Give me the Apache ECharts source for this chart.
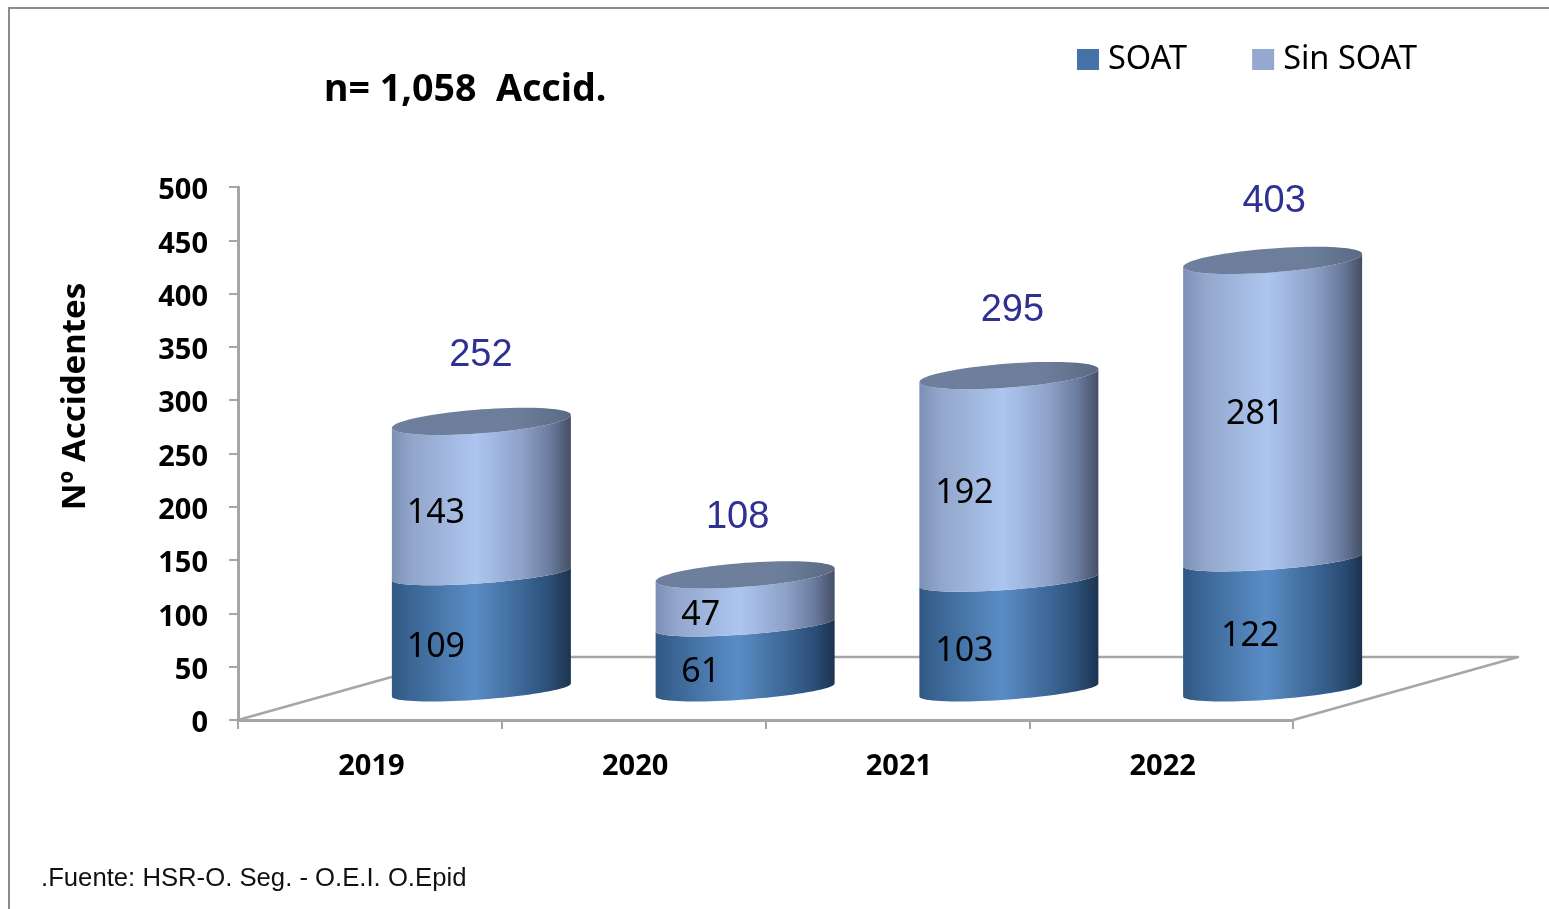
<!DOCTYPE html>
<html><head><meta charset="utf-8">
<style>html,body{margin:0;padding:0;background:#fff}#c{width:1549px;height:909px}</style>
<script src="https://cdn.jsdelivr.net/npm/echarts@6/dist/echarts.min.js"></script>
</head><body><div id="c"></div>
<script>
const categories = ['2019', '2020', '2021', '2022'];
const soat = [109, 61, 103, 122];
const sinSoat = [143, 47, 192, 281];
const totals = [252, 108, 295, 403];

// Hand placed label nudges of the original, in pixels [dx, dy]
const soatNudge = [[66, -15], [67, -15], [67, -14], [89, -19]];
const sinNudge = [[66, -14], [67, -15], [67, -15], [94, -26]];
const totalNudge = [[111, -96], [104, -87], [115, -95], [113, -89]];

const DEPTH_X = 111.5, DEPTH_Y = 30, FLOOR_X = 225, FLOOR_Y = 63;
const A = 89.5, TILT = 6.5, B = 9.5, CAP_B = 12;
const grey = '#a6a6a6';
const sansB = '"Noto Sans", sans-serif';

function arc(cx, cy, b, reverse) {
  const pts = [];
  for (let i = 0; i <= 40; i++) {
    const t = Math.PI * (1 - i / 40);
    pts.push([cx + A * Math.cos(t), cy - TILT * Math.cos(t) + b * Math.sin(t)]);
  }
  return reverse ? pts.reverse() : pts;
}
function ellipse(cx, cy, b) {
  const pts = [];
  for (let i = 0; i < 80; i++) {
    const t = Math.PI * 2 * i / 80;
    pts.push([cx + A * Math.cos(t), cy - TILT * Math.cos(t) + b * Math.sin(t)]);
  }
  return pts;
}
const grad = s => new echarts.graphic.LinearGradient(0, 0, 1, 0, s.map(p => ({offset: p[0], color: p[1]})));
const darkStops = [[0, '#305883'], [0.1, '#3a6594'], [0.46, '#5a8dc6'], [0.72, '#3d6897'], [0.88, '#2c4f78'], [1, '#1c3350']];
const lightStops = [[0, '#7c90b6'], [0.12, '#93a6cb'], [0.47, '#adc6ef'], [0.72, '#8fa2c9'], [0.88, '#6b7d9f'], [1, '#454f66']];
const capStops = [[0, '#6d7f9c'], [0.7, '#6c7e9a'], [1, '#5a6a84']];

function cylinderPart(stops, withCap, labelNudge) {
  return function (params, api) {
    const i = api.value(0);
    const lo = api.coord([i, api.value(1)]);
    const hi = api.coord([i, api.value(2)]);
    const cx = lo[0] + DEPTH_X;
    const yLo = lo[1] - DEPTH_Y, yHi = hi[1] - DEPTH_Y;
    const children = [{
      type: 'polygon',
      shape: {points: arc(cx, yLo, B, false).concat(arc(cx, yHi, withCap ? CAP_B : B, true))},
      style: {fill: grad(stops)}
    }];
    if (withCap) {
      children.push({
        type: 'polygon',
        shape: {points: ellipse(cx, yHi, CAP_B)},
        style: {fill: grad(capStops)}
      });
    }
    const val = api.value(2) - api.value(1);
    const mid = api.coord([i, (api.value(1) + api.value(2)) / 2]);
    children.push({
      type: 'text', z2: 20,
      style: {
        text: String(val),
        x: lo[0] + labelNudge[i][0], y: mid[1] + labelNudge[i][1],
        align: 'center', verticalAlign: 'middle', textAlign: 'center', textVerticalAlign: 'middle',
        fill: '#000', font: '34px "Noto Sans", sans-serif'
      }
    });
    return {type: 'group', children};
  };
}

const option = {
  animation: false,
  backgroundColor: '#fff',
  title: {
    text: 'n= 1,058  Accid.', left: 319, top: 66,
    textStyle: {fontFamily: sansB, fontWeight: 'bold', fontSize: 37.6, color: '#000'}
  },
  legend: {
    left: 1072, top: 38, itemWidth: 22, itemHeight: 21, itemGap: 65,
    data: ['SOAT', 'Sin SOAT'], icon: 'rect',
    textStyle: {fontFamily: sansB, fontSize: 32.5, color: '#000', padding: [0, 0, 0, 4]},
    selectedMode: false
  },
  grid: {left: 238, right: 256, top: 187, bottom: 189},
  xAxis: {
    type: 'category', data: categories, boundaryGap: true,
    axisLine: {lineStyle: {color: grey, width: 3}},
    axisTick: {show: true, length: 9, alignWithLabel: false, lineStyle: {color: grey, width: 2}},
    axisLabel: {margin: 32, color: '#000', fontFamily: sansB, fontWeight: 'bold', fontSize: 29, padding: [0, 0, 0, 3]}
  },
  yAxis: {
    type: 'value', min: 0, max: 500, interval: 50,
    name: 'Nº Accidentes', nameLocation: 'middle', nameGap: 146, nameRotate: 90,
    nameTextStyle: {color: '#000', fontFamily: sansB, fontWeight: 'bold', fontSize: 33, padding: [0, 0, 0, 114]},
    axisLine: {show: true, lineStyle: {color: grey, width: 3}},
    axisTick: {show: true, length: 9, lineStyle: {color: grey, width: 2}},
    axisLabel: {margin: 30, color: '#000', fontFamily: sansB, fontWeight: 'bold', fontSize: 29, verticalAlign: 'top', lineHeight: 8},
    splitLine: {show: false}
  },
  graphic: [
    {type: 'polyline', shape: {points: [[9, 909], [9, 8], [1549, 8]]}, style: {stroke: '#8c8c8c', lineWidth: 2, fill: 'none'}, silent: true},
    {type: 'text', left: 41, top: 866, style: {text: '.Fuente: HSR-O. Seg. - O.E.I. O.Epid', fill: '#111', font: '25.7px "Liberation Sans", Arial, sans-serif'}}
  ],
  series: [
    {
      name: 'floor', type: 'custom', z: 1, silent: true, clip: false, data: [[0]],
      renderItem: function (params) {
        const g = params.coordSys;
        const x0 = g.x, x1 = g.x + g.width, y0 = g.y + g.height;
        const line = pts => ({type: 'polyline', shape: {points: pts}, style: {stroke: grey, lineWidth: 2.5, fill: 'none', lineJoin: 'round'}});
        return {type: 'group', children: [
          line([[x0, y0], [x0 + FLOOR_X, y0 - FLOOR_Y], [x1 + FLOOR_X, y0 - FLOOR_Y], [x1, y0]])
        ]};
      }
    },
    {
      name: 'SOAT', type: 'custom', z: 3, clip: false, silent: true,
      itemStyle: {color: '#4573a7'},
      data: soat.map((v, i) => [i, 0, v]),
      encode: {x: 0, y: [1, 2]},
      renderItem: cylinderPart(darkStops, false, soatNudge)
    },
    {
      name: 'Sin SOAT', type: 'custom', z: 3, clip: false, silent: true,
      itemStyle: {color: '#94a8d0'},
      data: sinSoat.map((v, i) => [i, soat[i], soat[i] + v]),
      encode: {x: 0, y: [1, 2]},
      renderItem: cylinderPart(lightStops, true, sinNudge)
    },
    {
      name: 'Total', type: 'custom', z: 4, clip: false, silent: true,
      data: totals.map((v, i) => [i, v]),
      encode: {x: 0, y: 1},
      renderItem: function (params, api) {
        const i = api.value(0);
        const p = api.coord([i, api.value(1)]);
        return {
          type: 'text',
          style: {
            text: String(api.value(1)),
            x: p[0] + totalNudge[i][0], y: p[1] + totalNudge[i][1],
            align: 'center', verticalAlign: 'middle', textAlign: 'center', textVerticalAlign: 'middle',
            fill: '#2e3192', font: '38px "Liberation Sans", Arial, sans-serif'
          }
        };
      }
    }
  ]
};
echarts.init(document.getElementById('c')).setOption(option);
</script></body></html>
